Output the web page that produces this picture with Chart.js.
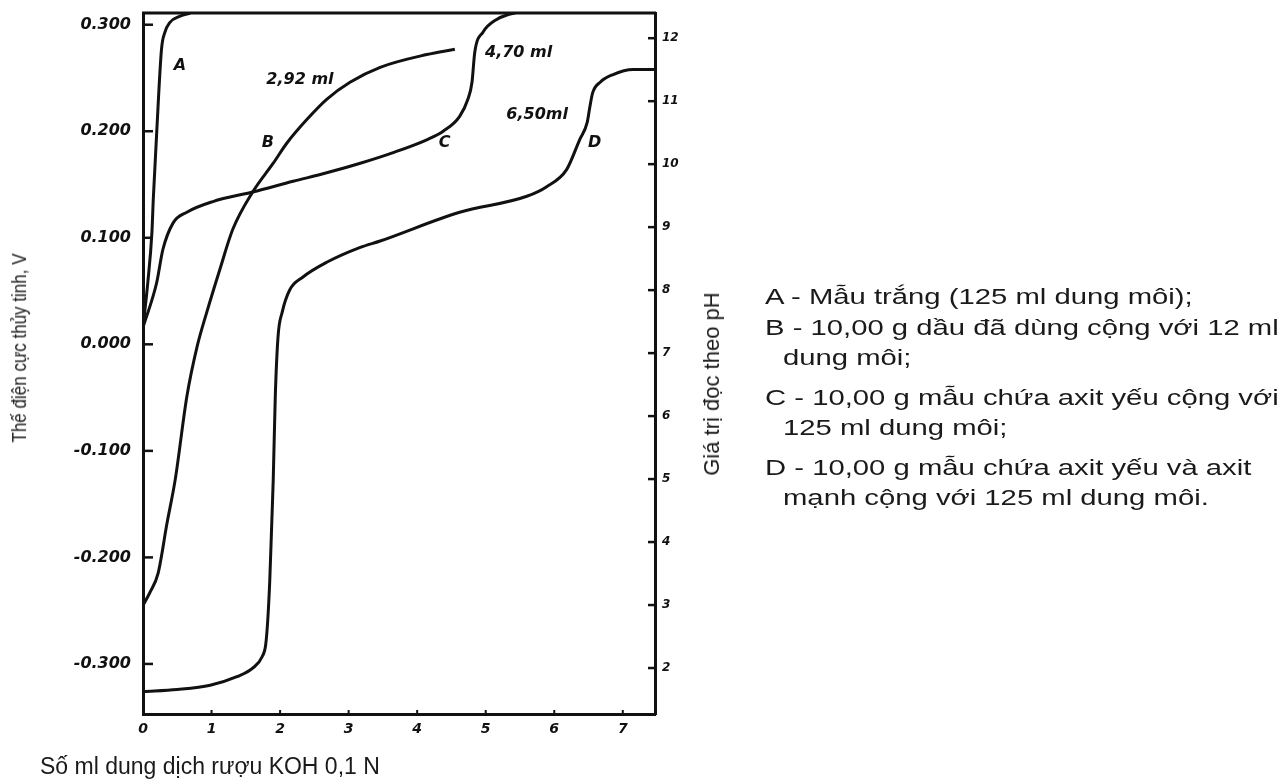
<!DOCTYPE html>
<html>
<head>
<meta charset="utf-8">
<script src="https://cdn.jsdelivr.net/npm/chart.js"></script>
<style>
body{margin:0;background:#fff;overflow:hidden;}
#wrap{position:relative;width:1285px;height:781px;}
#c{position:absolute;left:0;top:0;}
.t{position:absolute;font-family:"Liberation Sans",Arial,sans-serif;color:#1a1a1a;white-space:nowrap;line-height:1;}
.rot{transform:translate(-50%,-50%) rotate(-90deg);}
.lg{font-size:22px;transform-origin:left center;transform:translateY(-50%) scaleX(1.33);}
</style>
</head>
<body>
<div id="wrap">
<canvas id="c" width="1285" height="781"></canvas>
<div class="t rot" style="left:20px;top:348px;font-size:17px;transform:translate(-50%,-50%) rotate(-90deg) scaleY(1.15);">Thế điện cực thủy tinh, V</div>
<div class="t rot" style="left:712px;top:384px;font-size:22px;">Giá trị đọc theo pH</div>
<div class="t" style="left:40px;top:766px;font-size:23px;transform:translateY(-50%);">Số ml dung dịch rượu KOH 0,1 N</div>
<div class="t lg" style="left:765px;top:297px;">A - Mẫu trắng (125 ml dung môi);</div>
<div class="t lg" style="left:765px;top:328px;">B - 10,00 g dầu đã dùng cộng với 12 ml</div>
<div class="t lg" style="left:783px;top:358px;">dung môi;</div>
<div class="t lg" style="left:765px;top:398px;">C - 10,00 g mẫu chứa axit yếu cộng với</div>
<div class="t lg" style="left:783px;top:428px;">125 ml dung môi;</div>
<div class="t lg" style="left:765px;top:468px;">D - 10,00 g mẫu chứa axit yếu và axit</div>
<div class="t lg" style="left:783px;top:498px;">mạnh cộng với 125 ml dung môi.</div>
</div>
<script>
// truc
const xTicks=[0,1,2,3,4,5,6,7];
const vTicks=[-0.3,-0.2,-0.1,0,0.1,0.2,0.3];
const vTickLabels=['-0.300','-0.200','-0.100','0.000','0.100','0.200','0.300'];
const phTicks=[2,3,4,5,6,7,8,9,10,11,12];

// duong A - mau trang
const aX=[0,0.07,0.13,0.15,0.20,0.27,0.32,0.39,0.54,0.69];
const aV=[0.016,0.058,0.105,0.136,0.199,0.277,0.293,0.302,0.308,0.311];
// duong B
const bX=[0,0.10,0.22,0.35,0.47,0.64,0.79,0.93,1.12,1.31,1.60,1.90,2.10,2.39,2.68,3.02,3.46,4.14,4.55];
const bV=[-0.245,-0.233,-0.215,-0.168,-0.127,-0.049,-0.002,0.030,0.070,0.108,0.143,0.170,0.189,0.211,0.230,0.246,0.260,0.272,0.277];
// duong C
const cX=[0,0.20,0.29,0.44,0.64,1.02,1.60,2.19,2.68,3.17,3.65,4.14,4.38,4.62,4.74,4.80,4.84,4.96,5.16,5.31,5.43];
const cV=[0.016,0.058,0.089,0.114,0.124,0.134,0.143,0.153,0.161,0.170,0.180,0.192,0.200,0.214,0.230,0.246,0.274,0.293,0.305,0.309,0.311];
// duong D
const dX=[0,0.50,0.98,1.37,1.60,1.74,1.79,1.82,1.85,1.88,1.90,1.93,1.97,2.03,2.14,2.33,2.68,3.17,3.46,4.62,5.60,5.89,6.18,6.37,6.48,6.52,6.56,6.67,6.85,7.15,7.47];
const dV=[-0.326,-0.324,-0.320,-0.312,-0.304,-0.293,-0.282,-0.259,-0.221,-0.165,-0.127,-0.049,0.007,0.030,0.051,0.063,0.077,0.091,0.097,0.124,0.139,0.148,0.164,0.192,0.208,0.223,0.236,0.246,0.253,0.258,0.258];

// chu thich tren duong
const notes=[
  {text:'A',x:0.54,v:0.261},
  {text:'2,92 ml',x:2.29,v:0.248},
  {text:'B',x:1.82,v:0.189},
  {text:'4,70 ml',x:5.48,v:0.274},
  {text:'C',x:4.40,v:0.189},
  {text:'6,50ml',x:5.75,v:0.2155},
  {text:'D',x:6.59,v:0.189}
];

function pts(xs,ys){ return xs.map((x,i)=>({x:x,y:ys[i]})); }
function line(xs,ys){
  return {data:pts(xs,ys),borderColor:'#111',borderWidth:3,pointRadius:0,
    cubicInterpolationMode:'monotone',fill:false,yAxisID:'y'};
}
const tickFont={family:'DejaVu Sans',style:'italic',weight:'bold',size:16};
function noPad(s){ s.paddingTop=0; s.paddingBottom=0; s.paddingLeft=0; s.paddingRight=0; }

const frame={
  id:'frame',
  afterDatasetsDraw(chart){
    const {ctx,chartArea:a,scales}=chart;
    ctx.save();
    ctx.strokeStyle='#111';
    ctx.lineWidth=3;
    ctx.beginPath(); ctx.moveTo(a.left-1,a.top); ctx.lineTo(a.right+1,a.top); ctx.stroke();
    ctx.lineWidth=2.5;
    scales.y.ticks.forEach(t=>{
      const p=scales.y.getPixelForValue(t.value);
      ctx.beginPath(); ctx.moveTo(a.left,p); ctx.lineTo(a.left+10,p); ctx.stroke();
    });
    scales.y1.ticks.forEach(t=>{
      const p=scales.y1.getPixelForValue(t.value);
      ctx.beginPath(); ctx.moveTo(a.right,p); ctx.lineTo(a.right-7,p); ctx.stroke();
    });
    ctx.lineWidth=2;
    scales.x.ticks.forEach(t=>{
      const p=scales.x.getPixelForValue(t.value);
      ctx.beginPath(); ctx.moveTo(p,a.bottom); ctx.lineTo(p,a.bottom-4); ctx.stroke();
    });
    ctx.fillStyle='#111';
    ctx.font='italic bold 16px "DejaVu Sans"';
    ctx.textAlign='center'; ctx.textBaseline='middle';
    notes.forEach(n=>{
      ctx.fillText(n.text,scales.x.getPixelForValue(n.x),scales.y.getPixelForValue(n.v));
    });
    ctx.restore();
  }
};

new Chart(document.getElementById('c'),{
  type:'line',
  data:{datasets:[line(aX,aV),line(bX,bV),line(cX,cV),line(dX,dV)]},
  options:{
    responsive:false,animation:false,events:[],
    layout:{padding:{left:0,top:13,right:600,bottom:37}},
    plugins:{legend:{display:false},tooltip:{enabled:false}},
    scales:{
      x:{type:'linear',min:0,max:7.47,
        grid:{display:false,drawTicks:false},
        border:{display:true,color:'#111',width:3},
        ticks:{color:'#111',font:{...tickFont,size:14},padding:7,callback:v=>String(v)},
        afterBuildTicks:s=>{s.ticks=xTicks.map(v=>({value:v}));},
        afterFit:s=>{s.height=30; noPad(s);}
      },
      y:{type:'linear',position:'left',min:-0.347,max:0.311,
        grid:{display:false,drawTicks:false},
        border:{display:true,color:'#111',width:3},
        ticks:{color:'#111',font:tickFont,padding:12,
          callback:v=>{const i=vTicks.findIndex(t=>Math.abs(t-v)<1e-6);return i<0?'':vTickLabels[i];}},
        afterBuildTicks:s=>{s.ticks=vTicks.map(v=>({value:v}));},
        afterFit:s=>{s.width=143; noPad(s);}
      },
      y1:{type:'linear',position:'right',min:1.27,max:12.4,
        grid:{display:false,drawTicks:false},
        border:{display:true,color:'#111',width:3},
        ticks:{color:'#111',font:{...tickFont,size:12},padding:7,callback:v=>String(v)},
        afterBuildTicks:s=>{s.ticks=phTicks.map(v=>({value:v}));},
        afterFit:s=>{s.width=30; noPad(s);}
      }
    }
  },
  plugins:[frame]
});
</script>
</body>
</html>
